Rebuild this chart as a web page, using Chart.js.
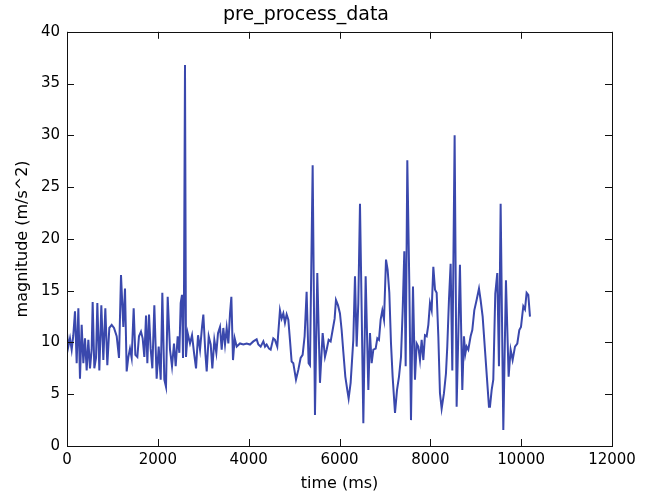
<!DOCTYPE html>
<html>
<head>
<meta charset="utf-8">
<script src="https://cdn.jsdelivr.net/npm/chart.js@4.4.1/dist/chart.umd.min.js"></script>
<style>
  body { margin: 0; background: #fff; }
  canvas { display: block; }
</style>
</head>
<body>
<canvas id="chart_pre" width="647" height="493"></canvas>
<script>
// time stamps (ms)
var timeMs = [
  0, 29, 66, 103, 139, 176, 213, 250, 286, 323,
  360, 396, 433, 470, 506, 543, 565, 602, 639, 668,
  712, 756, 800, 844, 888, 932, 984, 1035, 1094, 1145,
  1189, 1240, 1277, 1314, 1351, 1387, 1424, 1468, 1505, 1549,
  1585, 1629, 1666, 1703, 1740, 1769, 1806, 1842, 1879, 1923,
  1974, 2019, 2063, 2099, 2143, 2180, 2217, 2268, 2312, 2356,
  2393, 2437, 2474, 2503, 2532, 2554, 2576, 2598, 2620, 2657,
  2708, 2753, 2797, 2841, 2885, 2929, 2973, 3002, 3046, 3076,
  3120, 3164, 3200, 3244, 3288, 3325, 3369, 3406, 3442, 3479,
  3516, 3553, 3589, 3619, 3655, 3692, 3736,
  3809, 3882, 3956, 4029, 4103, 4176, 4213, 4264, 4323, 4360,
  4396, 4448, 4484, 4542, 4579, 4630, 4689, 4726, 4763, 4799,
  4836, 4873, 4909, 4946, 4983, 5042, 5093, 5144, 5188, 5232,
  5276, 5320, 5350, 5409, 5460, 5511, 5570, 5629, 5680, 5717,
  5761, 5805, 5849, 5893, 5922, 5966, 6010, 6047, 6084, 6128,
  6172, 6201, 6245, 6304,
  6341, 6378, 6414, 6451, 6488, 6525, 6576, 6635, 6671, 6708,
  6745, 6796, 6833, 6869, 6906, 6943, 6980, 7024, 7060, 7097,
  7134, 7170, 7222, 7266, 7310, 7354, 7391, 7427, 7457, 7493,
  7537, 7574, 7618, 7662, 7699, 7735, 7772, 7809, 7846, 7882,
  7919, 7956, 7992, 8029, 8066, 8103, 8139, 8176,
  8212, 8249, 8300, 8344, 8373, 8410, 8447, 8484, 8535, 8579,
  8652, 8704, 8740, 8770, 8799, 8836, 8887, 8924, 8968, 9019,
  9071, 9107, 9152, 9203, 9254, 9291, 9313, 9350, 9386, 9430,
  9474, 9511, 9548, 9607, 9665, 9724, 9768, 9812, 9864, 9915,
  9959, 9996, 10047, 10084, 10120, 10157, 10194
];

// magnitude (m/s^2) at each time stamp
var magnitude = [
  10.9, 9.6, 10.4, 9.3, 10.7, 13.0, 8.0, 13.3, 6.5, 11.7,
  8.0, 10.4, 7.3, 10.25, 7.5, 9.3, 13.9, 7.5, 8.5, 13.8,
  7.3, 13.6, 8.3, 13.3, 7.8, 11.4, 11.7, 11.4, 10.6, 8.5,
  16.5, 11.5, 15.2, 7.2, 8.6, 9.4, 8.5, 13.3, 8.8, 8.6,
  10.6, 11.05, 10.4, 8.6, 12.6, 8.0, 12.7, 9.4, 7.5, 13.6,
  6.5, 9.6, 6.4, 14.8, 6.4, 5.7, 14.4, 9.3, 7.7, 9.9,
  7.7, 10.6, 9.0, 13.8, 14.6, 8.5, 14.8, 36.8, 8.6, 10.9,
  9.9, 10.7, 9.0, 7.5, 10.7, 9.3, 11.5, 12.7, 9.0, 7.2,
  10.6, 9.8, 7.5, 10.25, 9.0, 10.9, 11.5, 9.3, 11.4, 9.8,
  11.4, 9.9, 12.8, 14.4, 8.3, 10.4, 9.6,
  9.9, 9.8, 9.9, 9.8, 10.1, 10.3, 9.8, 9.6, 10.1, 9.6,
  9.8, 9.4, 9.3, 10.4, 10.25, 9.6, 13.1, 12.3, 12.8, 11.9,
  12.7, 12.2, 10.25, 8.15, 8.0, 6.4, 7.35, 8.5, 8.8, 10.6,
  14.9, 8.0, 7.8, 27.1, 3.0, 16.7, 6.1, 10.9, 8.6, 9.3,
  10.25, 10.1, 11.2, 12.3, 14.1, 13.6, 12.8, 11.2, 9.1, 6.7,
  5.4, 4.6, 6.1, 10.25,
  16.4, 9.6, 13.8, 23.4, 13.1, 2.2, 16.4, 5.4, 10.9, 8.0,
  9.3, 9.4, 10.4, 10.25, 12.2, 13.1, 12.2, 18.0, 17.0, 14.8,
  9.9, 6.7, 3.2, 5.4, 6.7, 8.6, 13.1, 18.8, 7.7, 27.6,
  15.7, 2.5, 15.4, 6.4, 9.9, 9.6, 8.3, 10.25, 8.3, 10.7,
  10.6, 11.7, 13.8, 13.1, 17.3, 15.1, 14.8, 10.6,
  5.1, 3.6, 5.1, 7.0, 9.6, 14.1, 17.6, 7.3, 30.0, 3.8,
  17.5, 5.4, 10.6, 8.9, 9.6, 9.3, 10.6, 11.2, 13.1, 14.1,
  15.2, 14.1, 12.5, 9.3, 6.1, 3.8, 3.8, 5.4, 6.4, 14.7,
  16.7, 7.7, 23.4, 1.55, 16.0, 6.7, 9.3, 8.3, 9.6, 9.9,
  11.2, 11.5, 13.5, 13.2, 14.8, 14.6, 12.5
];

var xTickStep = 2000, xMax = 12000;
var yTickStep = 5, yMax = 40;

var points = [];
for (var i = 0; i < timeMs.length; i++) {
  points.push({x: timeMs[i], y: magnitude[i]});
}

var font = 'DejaVu Sans';

// matplotlib-like frame with ticks pointing inward on all four sides
var frameTicks = {
  id: 'frameTicks',
  afterDraw: function(chart) {
    var ctx = chart.ctx, a = chart.chartArea;
    var xs = chart.scales.x, ys = chart.scales.y;
    var len = 7;
    ctx.save();
    ctx.strokeStyle = '#111';
    ctx.lineWidth = 1;
    ctx.strokeRect(Math.round(a.left) + 0.5, Math.round(a.top) + 0.5,
                   Math.round(a.right - a.left), Math.round(a.bottom - a.top));
    ctx.beginPath();
    xs.ticks.forEach(function(t) {
      var px = Math.round(xs.getPixelForValue(t.value)) + 0.5;
      ctx.moveTo(px, a.bottom); ctx.lineTo(px, a.bottom - len);
      ctx.moveTo(px, a.top); ctx.lineTo(px, a.top + len);
    });
    ys.ticks.forEach(function(t) {
      var py = Math.round(ys.getPixelForValue(t.value)) + 0.5;
      ctx.moveTo(a.left, py); ctx.lineTo(a.left + len, py);
      ctx.moveTo(a.right, py); ctx.lineTo(a.right - len, py);
    });
    ctx.stroke();
    ctx.restore();
  }
};

// plain numbers, no thousands separator
function plain(v) { return String(v); }

var ctx = document.getElementById('chart_pre').getContext('2d');
var chart = new Chart(ctx, {
  type: 'line',
  data: {
    datasets: [{
      label: 'pre_process_data',
      data: points,
      borderColor: '#3a48ad',
      borderWidth: 2,
      pointRadius: 0,
      tension: 0,
      fill: false
    }]
  },
  options: {
    responsive: false,
    animation: false,
    layout: { padding: { left: 0, right: 35, top: 0, bottom: 0 } },
    plugins: {
      legend: { display: false },
      tooltip: { enabled: false },
      title: {
        display: true,
        text: 'pre_process_data',
        color: '#000',
        font: { family: font, size: 19, weight: 'normal' },
        padding: { top: 4, bottom: 5 }
      }
    },
    scales: {
      x: {
        type: 'linear',
        min: 0,
        max: xMax,
        grid: { display: false, drawTicks: false },
        border: { display: false },
        ticks: { stepSize: xTickStep, color: '#000', padding: 5, maxRotation: 0,
                 callback: plain, font: { family: font, size: 15 } },
        title: { display: true, text: 'time (ms)', color: '#000', padding: { top: 3, bottom: 0 },
                 font: { family: font, size: 16 } },
        afterFit: function(scale) { scale.height = 47; }
      },
      y: {
        min: 0,
        max: yMax,
        grid: { display: false, drawTicks: false },
        border: { display: false },
        ticks: { stepSize: yTickStep, color: '#000', padding: 7,
                 callback: plain, font: { family: font, size: 15 } },
        title: { display: true, text: 'magnitude (m/s^2)', color: '#000', padding: { top: 13, bottom: 0 },
                 font: { family: font, size: 16 } },
        afterFit: function(scale) { scale.width = 67; }
      }
    }
  },
  plugins: [frameTicks]
});
</script>
</body>
</html>
